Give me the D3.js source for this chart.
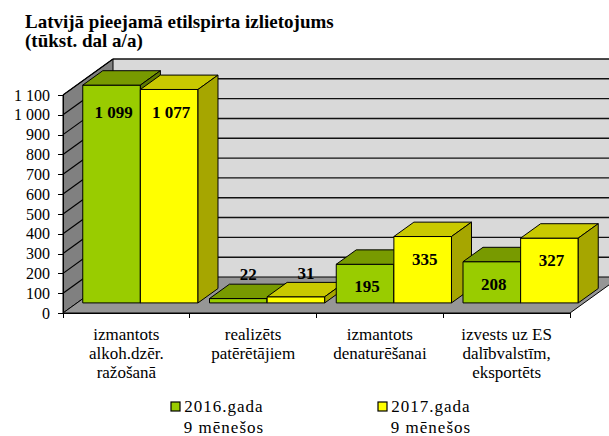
<!DOCTYPE html>
<meta charset="utf-8">
<title>Latvijā pieejamā etilspirta izlietojums</title>
<style>

body {
  margin: 0;
  background: #fff;
}

svg text {
  font-family: 'Liberation Serif', 'DejaVu Serif', serif;
}

.title {
  font-size: 19px;
  font-weight: bold;
}

.axis text {
  font-size: 16px;
  fill: #000;
}

.axis line,
.axis path {
  stroke: #000;
  shape-rendering: crispEdges;
}

.cat {
  font-size: 17px;
}

.value {
  font-size: 17px;
  font-weight: bold;
}

.legend text {
  font-size: 17px;
  letter-spacing: 1px;
}

</style>
<body>
<script src="https://cdn.jsdelivr.net/npm/d3@7"></script>
<script>

var categories = [
  "izmantots\nalkoh.dzēr.\nražošanā",
  "realizēts\npatērētājiem",
  "izmantots\ndenaturēšanai",
  "izvests uz ES\ndalībvalstīm,\neksportēts"
];
var seriesNames = ["2016.gada\n9 mēnešos", "2017.gada\n9 mēnešos"];
var values2016 = [1099, 22, 195, 208];
var values2017 = [1077, 31, 335, 327];
var yTicks = [0, 100, 200, 300, 400, 500, 600, 700, 800, 900, 1000, 1100];
var titleLines = ["Latvijā pieejamā etilspirta izlietojums", "(tūkst. dal a/a)"];

var width = 609,
    height = 436;

var colors = [
  {front: "#99cc00", top: "#789a00", side: "#5f7a00"},
  {front: "#ffff00", top: "#c9c900", side: "#a6a600"}
];

// depth of the 3d box, and where the bars sit inside it
var depth = {x: 50, y: -36},
    z0 = 0.28,
    z1 = 0.68;

var x0 = d3.scaleBand()
    .domain(d3.range(categories.length))
    .range([63, 570]);

var x1 = d3.scaleBand()
    .domain([0, 1])
    .range([0, x0.bandwidth()])
    .paddingOuter(0.1);

var y = d3.scaleLinear()
    .domain([0, 1100])
    .range([313, 95]);

var fmt = d3.formatLocale({decimal: ",", thousands: "\u00a0", grouping: [3], currency: ["", ""]}).format(",d");

function P(px, py, z) { return [px + depth.x * z, py + depth.y * z]; }
function poly(pts) { return "M" + pts.map(function(p) { return p.join(","); }).join("L") + "Z"; }

var svg = d3.select("body").append("svg")
    .attr("width", width)
    .attr("height", height);

svg.append("g").selectAll("text")
    .data(titleLines)
  .enter().append("text")
    .attr("class", "title")
    .attr("x", 25)
    .attr("y", function(d, i) { return 28 + i * 19; })
    .text(function(d) { return d; });

var xl = x0.range()[0],
    xr = x0.range()[1],
    yTop = y(1100),
    yBot = y(0);

// back wall
svg.append("path")
    .attr("d", poly([P(xl, yTop, 1), P(width + 40, yTop, 1), P(width + 40, yBot, 1), P(xl, yBot, 1)]))
    .attr("fill", "#d9d9d9");

svg.append("g").selectAll("line")
    .data(yTicks.slice(1))
  .enter().append("line")
    .attr("x1", function(d) { return P(xl, y(d), 1)[0]; })
    .attr("y1", function(d) { return P(xl, y(d), 1)[1]; })
    .attr("x2", width + 40)
    .attr("y2", function(d) { return P(xl, y(d), 1)[1]; })
    .attr("stroke", "#111")
    .attr("stroke-width", 1.4);

// side wall
svg.append("path")
    .attr("d", poly([P(xl, yBot, 0), P(xl, yTop, 0), P(xl, yTop, 1), P(xl, yBot, 1)]))
    .attr("fill", "#808080")
    .attr("stroke", "#000");

svg.append("g").selectAll("line")
    .data(yTicks.slice(1))
  .enter().append("line")
    .attr("x1", function(d) { return P(xl, y(d), 0)[0]; })
    .attr("y1", function(d) { return P(xl, y(d), 0)[1]; })
    .attr("x2", function(d) { return P(xl, y(d), 1)[0]; })
    .attr("y2", function(d) { return P(xl, y(d), 1)[1]; })
    .attr("stroke", "#000")
    .attr("stroke-width", 1.2);

// floor
svg.append("path")
    .attr("d", poly([P(xl, yBot, 0), P(xr, yBot, 0), P(xr, yBot, 1), P(xl, yBot, 1)]))
    .attr("fill", "#969696")
    .attr("stroke", "#000");

// bars, left to right so the next front face covers the previous side
var bars = [];
categories.forEach(function(c, i) {
  [values2016, values2017].forEach(function(vals, s) {
    bars.push({cat: i, s: s, v: vals[i]});
  });
});

var bar = svg.append("g").selectAll("g")
    .data(bars)
  .enter().append("g")
    .attr("stroke", "#000")
    .attr("stroke-width", 1);

function geom(d) {
  var bx = x0(d.cat) + x1(d.s),
      bw = x1.bandwidth();
  return {l: bx, r: bx + bw, t: y(d.v), b: y(0)};
}

bar.append("path")
    .attr("fill", function(d) { return colors[d.s].front; })
    .attr("d", function(d) {
      var g = geom(d);
      return poly([P(g.l, g.b, z0), P(g.l, g.t, z0), P(g.r, g.t, z0), P(g.r, g.b, z0)]);
    });

bar.append("path")
    .attr("fill", function(d) { return colors[d.s].top; })
    .attr("d", function(d) {
      var g = geom(d);
      return poly([P(g.l, g.t, z0), P(g.r, g.t, z0), P(g.r, g.t, z1), P(g.l, g.t, z1)]);
    });

bar.append("path")
    .attr("fill", function(d) { return colors[d.s].side; })
    .attr("d", function(d) {
      var g = geom(d);
      return poly([P(g.r, g.t, z0), P(g.r, g.b, z0), P(g.r, g.b, z1), P(g.r, g.t, z1)]);
    });

// value labels
svg.append("g").selectAll("text")
    .data(bars)
  .enter().append("text")
    .attr("class", "value")
    .attr("text-anchor", "middle")
    .attr("x", function(d) {
      var g = geom(d);
      var inside = g.b - g.t > 30;
      return P((g.l + g.r) / 2, 0, inside ? z0 : (z0 + z1) / 2)[0] + (inside ? 2 : 0);
    })
    .attr("y", function(d) {
      var g = geom(d);
      if (g.b - g.t > 30) return Math.max(P(0, g.t, z0)[1] + 28, P(0, yTop, z0)[1] + 33);
      return P(0, g.t, (z0 + z1) / 2)[1] - 11;
    })
    .text(function(d) { return fmt(d.v); });

// y axis
svg.append("g")
    .attr("class", "axis")
    .attr("transform", "translate(" + xl + ",0)")
    .call(d3.axisLeft(y).tickValues(yTicks).tickSize(5).tickPadding(8).tickFormat(fmt))
    .attr("font-family", null)
    .attr("font-size", null);

// x axis line and category ticks
var xa = svg.append("g").attr("class", "axis");
xa.append("line")
    .attr("x1", xl).attr("x2", xr)
    .attr("y1", yBot).attr("y2", yBot);
xa.selectAll(".tick")
    .data(d3.range(categories.length + 1))
  .enter().append("line")
    .attr("x1", function(i) { return i < categories.length ? x0(i) : xr; })
    .attr("x2", function(i) { return i < categories.length ? x0(i) : xr; })
    .attr("y1", yBot).attr("y2", yBot + 5);

svg.append("g").selectAll("text")
    .data(categories)
  .enter().append("text")
    .attr("class", "cat")
    .attr("text-anchor", "middle")
    .attr("transform", function(d, i) { return "translate(" + (x0(i) + x0.bandwidth() / 2) + ",340)"; })
    .selectAll("tspan")
    .data(function(d) { return d.split("\n"); })
  .enter().append("tspan")
    .attr("x", 0)
    .attr("y", function(d, i) { return i * 19; })
    .text(function(d) { return d; });

// legend
var legend = svg.append("g")
    .attr("class", "legend")
  .selectAll("g")
    .data(seriesNames)
  .enter().append("g")
    .attr("transform", function(d, i) { return "translate(" + (171 + i * 207) + ",402)"; });

legend.append("rect")
    .attr("width", 9)
    .attr("height", 9)
    .attr("fill", function(d, i) { return colors[i].front; })
    .attr("stroke", "#000")
    .attr("stroke-width", 1.2);

legend.append("text")
    .attr("text-anchor", "middle")
    .selectAll("tspan")
    .data(function(d) { return d.split("\n"); })
  .enter().append("tspan")
    .attr("x", 53)
    .attr("y", function(d, i) { return 10 + i * 21; })
    .text(function(d) { return d; });

</script>
